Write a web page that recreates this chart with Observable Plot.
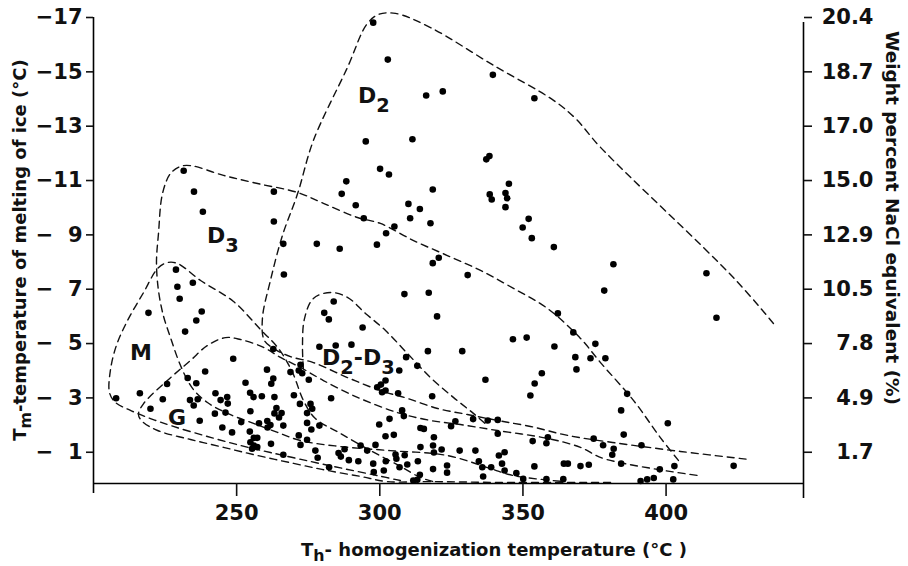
<!DOCTYPE html>
<html><head><meta charset="utf-8">
<script src="https://cdn.jsdelivr.net/npm/d3@7"></script>
<script src="https://cdn.jsdelivr.net/npm/@observablehq/plot@0.6"></script>
<style>body{margin:0;background:#fff;} #chart{width:908px;height:566px;}</style>
</head><body><div id="chart"></div>
<script>
// Homogenization temperature (°C) and ice-melting temperature (°C) of each inclusion
const th = [297.7,302.8,316.2,322.0,339.5,354.0,295.1,311.4,337.2,338.3,345.1,300.1,303.2,288.3,286.7,318.5,338.4,339.1,343.9,344.5,
343.9,291.6,310.0,314.0,294.4,310.6,317.7,305.1,302.2,352.0,349.9,353.1,360.8,266.3,278.0,286.0,299.0,320.6,318.5,330.7,
308.6,317.1,320.0,381.6,378.4,362.2,367.6,346.5,351.3,414.1,417.6,375.3,373.6,378.8,386.4,384.3,400.6,385.2,374.7,378.0,
381.7,381.2,391.4,384.3,370.1,373.0,397.8,402.9,423.6,391.1,393.4,395.7,402.5,283.9,280.6,282.2,294.0,278.9,284.6,290.1,
316.8,328.8,361.0,368.3,368.7,356.6,354.1,352.6,336.9,309.2,313.1,306.8,318.3,306.4,299.1,300.4,302.0,300.8,302.0,272.3,
271.7,272.9,275.2,268.8,270.0,283.0,272.1,275.8,274.6,276.4,263.9,263.2,265.7,264.8,266.3,260.7,261.8,260.8,274.6,276.1,
278.9,271.7,272.3,274.6,266.3,277.5,278.3,285.6,286.4,287.7,289.2,282.3,292.5,293.3,295.6,298.5,297.7,297.9,299.8,302.0,
304.9,303.4,307.8,308.4,302.1,301.4,305.5,305.8,306.9,309.6,308.7,313.3,314.2,311.7,313.1,314.0,314.2,315.4,318.9,318.6,
318.9,318.6,321.6,323.5,323.5,324.9,326.4,327.9,332.6,337.7,341.2,341.2,333.4,334.6,335.8,336.1,338.9,341.6,343.6,342.7,
343.6,347.7,350.1,353.4,358.2,358.7,354.0,358.2,364.1,364.3,365.7,231.5,235.1,238.2,263.0,263.0,228.8,229.3,230.1,234.7,
237.8,235.9,232.0,219.2,266.5,248.8,239.0,232.9,235.9,225.7,262.8,260.6,262.8,262.1,253.1,207.9,216.2,219.9,224.2,233.7,
235.0,236.4,237.1,242.6,244.4,246.7,246.9,254.7,255.9,258.8,263.2,242.4,246.1,245.0,254.8,251.6,257.8,248.4,254.6,256.0,
257.2,254.8,256.0,257.2,255.4,262.0];
const tm = [-16.81,-15.45,-14.13,-14.28,-14.89,-14.03,-12.44,-12.52,-11.78,-11.90,-10.88,-11.43,-11.22,-10.97,-10.51,-10.67,-10.49,-10.30,-10.54,-10.35,
-10.02,-10.09,-10.14,-9.95,-9.61,-9.61,-9.43,-9.31,-9.06,-9.59,-9.27,-8.88,-8.55,-8.67,-8.67,-8.49,-8.64,-8.16,-7.96,-7.52,
-6.82,-6.87,-6.00,-7.92,-6.95,-6.11,-5.41,-5.16,-5.22,-7.59,-5.95,-4.99,-4.46,-4.46,-3.15,-2.54,-2.07,-1.65,-1.50,-1.26,
-1.13,-0.91,-1.26,-0.58,-0.49,-0.54,-0.37,-0.49,-0.50,0.06,0.00,-0.05,0.00,-6.55,-6.13,-5.89,-5.59,-4.88,-4.93,-4.96,
-4.72,-4.72,-4.89,-4.50,-4.05,-3.91,-3.53,-3.09,-3.67,-4.50,-4.18,-4.01,-3.06,-3.17,-3.39,-3.49,-3.64,-3.21,-3.27,-4.22,
-4.01,-3.91,-3.67,-3.95,-3.10,-2.99,-2.78,-2.78,-2.44,-2.60,-2.63,-2.43,-2.44,-2.28,-1.98,-2.15,-2.00,-1.91,-2.08,-1.84,
-1.98,-1.62,-1.27,-1.46,-0.91,-1.06,-0.80,-0.97,-0.84,-1.11,-0.71,-0.45,-0.67,-1.25,-1.06,-1.27,-0.58,-0.27,-2.02,-1.59,
-1.64,-2.23,-2.54,-2.33,-0.67,-0.33,-0.92,-0.76,-0.45,-0.55,-0.89,-0.67,-1.19,0.04,0.01,-0.17,-1.89,-1.86,-1.55,-1.25,
-0.99,-0.38,-1.10,-0.51,-0.25,-1.96,-2.14,-1.06,-2.22,-2.17,-2.19,-1.68,-1.06,-0.67,-0.45,-0.11,-0.45,-0.88,-1.00,-0.58,
-0.33,-0.23,-0.02,-1.41,-1.33,-1.55,-0.48,-0.01,-0.01,-0.58,-0.58,-11.36,-10.59,-9.85,-10.59,-9.49,-7.72,-7.09,-6.65,-7.24,
-6.18,-5.85,-5.44,-6.13,-7.54,-4.44,-3.97,-3.73,-3.54,-3.51,-4.80,-4.04,-3.71,-3.52,-3.56,-2.99,-3.17,-2.60,-2.95,-2.92,
-2.72,-2.95,-2.16,-3.17,-2.92,-3.03,-2.79,-3.19,-3.03,-3.06,-3.03,-2.42,-2.46,-1.91,-2.51,-2.11,-2.07,-1.73,-1.76,-1.53,
-1.53,-1.37,-1.25,-1.19,-1.13,-1.31];

// Group envelopes, [Th, Tm]
const envD2 = [[437.5,-5.74],[423.5,-7.43],[377.1,-12.22],[368.4,-13.28],[360.7,-13.95],[339.7,-15.24],[317.7,-16.63],[305.5,-17.15],[299.5,-17.11],[295.4,-16.74],[288.7,-15.16],[276.8,-12.47],[271.3,-10.52],[266.0,-8.98],[261.8,-7.32],[259.0,-5.92],[259.7,-5.11],[263.6,-4.78],[268.8,-4.52],[276.8,-4.30],[288.7,-3.75],[300.2,-3.27],[309.7,-2.98],[320.2,-2.61],[330.6,-2.39],[341.1,-2.17],[352.6,-1.95],[365.6,-1.62],[381.3,-1.36],[405.0,-1.03],[429.5,-0.73]];
const envD3 = [[404.3,-0.70],[398.0,-1.54],[388.6,-2.91],[377.1,-4.30],[370.1,-5.19],[358.6,-6.29],[346.7,-7.03],[335.2,-7.69],[323.6,-8.24],[311.8,-8.79],[300.2,-9.42],[292.2,-9.64],[280.3,-10.16],[271.3,-10.56],[257.3,-10.89],[245.4,-11.19],[233.9,-11.55],[230.4,-11.52],[226.9,-11.26],[224.1,-10.52],[222.7,-9.05],[222.0,-7.98],[222.7,-6.95],[224.4,-6.03],[226.9,-5.22],[230.4,-4.19],[234.6,-3.35],[239.8,-2.83],[246.8,-2.43],[255.9,-2.06],[264.3,-1.73],[272.3,-1.43],[286.3,-1.21],[303.7,-1.06],[323.6,-0.88],[338.7,-0.40],[346.7,-0.14],[364.2,0.08]];
const envD2D3 = [[273.3,-4.08],[273.0,-4.93],[273.7,-5.92],[276.8,-6.66],[282.8,-6.88],[288.7,-6.70],[295.0,-6.11],[302.0,-5.48],[309.7,-4.63],[317.7,-3.75],[325.7,-3.02],[332.7,-2.43],[337.6,-1.98]];
const envM = [[307.2,0.04],[299.2,-0.14],[287.3,-0.40],[275.8,-0.66],[261.8,-0.99],[251.3,-1.25],[239.8,-1.58],[227.9,-1.95],[219.9,-2.24],[212.9,-2.54],[207.7,-2.83],[205.6,-3.19],[205.9,-4.01],[208.0,-4.93],[211.9,-5.85],[217.5,-6.88],[222.4,-7.76],[225.8,-7.98],[229.3,-7.95],[237.4,-7.32],[248.9,-6.55],[258.3,-5.52],[264.6,-4.82],[269.5,-3.94],[273.3,-2.91],[277.5,-2.24],[286.3,-1.69],[296.8,-1.06],[307.2,-0.48],[314.2,-0.07],[318.8,0.08]];
const envG = [[380.6,0.11],[342.2,0.11],[317.7,0.08],[302.7,0.08],[293.3,-0.11],[281.7,-0.33],[269.9,-0.59],[257.3,-0.88],[245.4,-1.18],[233.9,-1.47],[222.4,-1.80],[217.1,-2.13],[215.7,-2.39],[217.5,-2.79],[225.8,-3.64],[233.9,-4.38],[239.8,-4.93],[246.1,-5.22],[251.3,-5.15],[259.4,-4.86],[265.3,-4.49],[272.3,-4.12],[280.3,-3.64],[292.2,-3.02],[306.2,-2.46],[317.7,-2.17],[328.2,-2.02],[341.1,-1.80],[358.6,-1.51],[370.1,-1.18],[378.1,-0.77],[411.3,-0.14]];

// Region labels: main letter(s) and subscripts, anchored at [Th, Tm]
const regionNames = [["D","2"],["D","3"],["M"],["G"],["D","2","-D","3"]];
const regionTh = [292.6, 239.8, 212.9, 226.2, 280.0];
const regionTm = [-13.84, -8.68, -4.38, -1.98, -4.19];

const yTicks = [-17,-15,-13,-11,-9,-7,-5,-3,-1];
const naclLabels = ["20.4","18.7","17.0","15.0","12.9","10.5","7.8","4.9","1.7"];
const xTicks = [250,300,350,400];

const pts = th.map((x,i)=>({th:x, tm:tm[i]}));
const envelopes = [envD2, envD3, envD2D3, envM, envG];
const dash = {x: d=>d[0], y: d=>d[1], curve: "catmull-rom", stroke: "#111", strokeWidth: 1.4, strokeDasharray: "7,5"};

const fmtLeft = d => (Math.abs(d) >= 10 ? "\u2212" : "\u2212\u2007") + Math.abs(d);

const chart = Plot.plot({
  width: 908, height: 566,
  marginTop: 17, marginRight: 105, marginBottom: 83, marginLeft: 93,
  style: {fontFamily: "'DejaVu Sans', sans-serif", fontSize: "21px", fontWeight: "bold", background: "#fff", color: "#111", overflow: "visible"},
  x: {domain: [200, 448]},
  y: {domain: [0.15, -17]},
  marks: [
    ...envelopes.map(e => Plot.line(e, dash)),
    Plot.dot(pts, {x: "th", y: "tm", r: 3.3, fill: "#000"}),
    Plot.ruleX([200], {y1: 0.52, y2: -17, stroke: "#000", strokeWidth: 1.6}),
    Plot.ruleX([448], {y1: 0.70, y2: -16.82, stroke: "#000", strokeWidth: 1.6}),
    Plot.ruleY([0.15], {x1: 200, x2: 448, stroke: "#000", strokeWidth: 1.6}),
    Plot.axisY({ticks: yTicks, anchor: "left", tickSize: 7, tickPadding: 4, tickFormat: fmtLeft, label: null, strokeWidth: 1.6}),
    Plot.axisY({ticks: yTicks, anchor: "right", tickSize: 8, tickPadding: 62, textAnchor: "end", tickFormat: d => naclLabels[yTicks.indexOf(d)], label: null, strokeWidth: 1.6}),
    Plot.axisX({ticks: xTicks, anchor: "bottom", tickSize: 13, tickPadding: 9, label: null, strokeWidth: 1.6})
  ]
});
document.getElementById("chart").appendChild(chart);

const svg = d3.select(chart);
const X = chart.scale("x"), Y = chart.scale("y");
function richText(g, parts, size, subShift) {
  let down = false;
  parts.forEach((p, i) => {
    const isSub = i % 2 === 1;
    const ts = g.append("tspan").text(p);
    if (isSub && !down) { ts.attr("dy", subShift).attr("font-size", size * 0.88); down = true; }
    else if (!isSub && down) { ts.attr("dy", -subShift).attr("font-size", size); down = false; }
  });
}
regionNames.forEach((parts, i) => {
  const t = svg.append("text").attr("x", X.apply(regionTh[i])).attr("y", Y.apply(regionTm[i]))
    .attr("text-anchor", "start")
    .attr("font-family", "DejaVu Sans").attr("font-weight", "bold").attr("font-size", 22).attr("fill", "#111");
  richText(t, parts, 22, 9);
});
function title(parts, transform, x, y, size) {
  const t = svg.append("text").attr("transform", transform).attr("x", x).attr("y", y)
    .attr("text-anchor", "middle").attr("font-family", "DejaVu Sans").attr("font-weight", "bold").attr("font-size", size).attr("fill", "#111");
  richText(t, parts, size, 5);
}
title(["T", "h", "- homogenization temperature (\u00B0C )"], null, 494, 556, 18);
title(["T", "m", "-temperature of melting of ice (\u00B0C)"], "translate(26,250) rotate(-90)", 0, 0, 18);
title(["Weight percent NaCl equivalent (%)"], "translate(886,218) rotate(90)", 0, 0, 18.5);
</script>
</body></html>
